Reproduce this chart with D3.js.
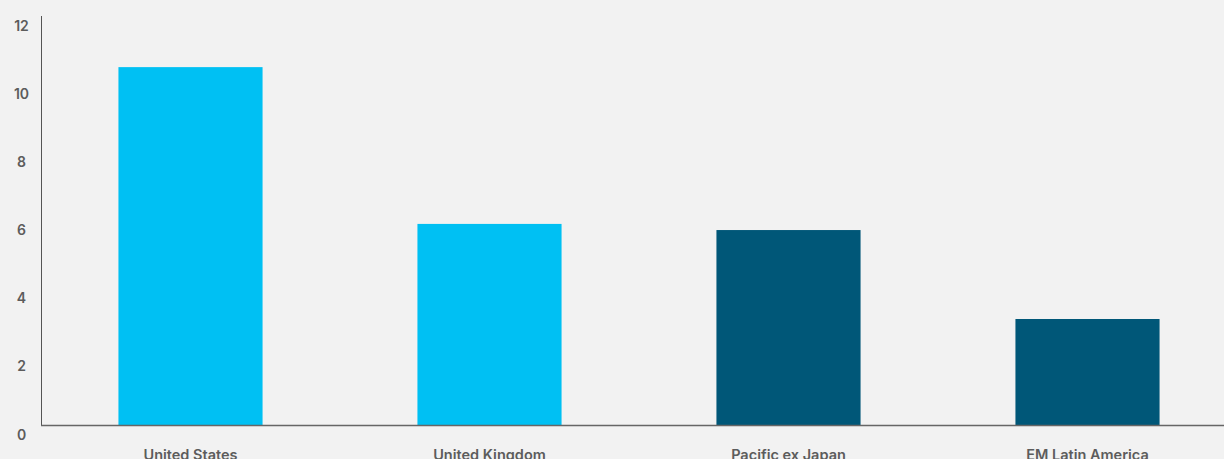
<!DOCTYPE html>
<html>
<head>
<meta charset="utf-8">
<script src="https://cdn.jsdelivr.net/npm/d3@7"></script>
<style>
  html, body { margin: 0; padding: 0; background: #f2f2f2; }
  svg { display: block; }
  text { font-family: Inter, "Noto Sans", sans-serif; fill: #5c5c5c; font-weight: 600; }
</style>
</head>
<body>
<svg id="chart" width="1224" height="459"></svg>
<script>
// Regions and their values
const categories = ["United States", "United Kingdom", "Pacific ex Japan", "EM Latin America"];
const values = [10.5, 5.9, 5.72, 3.11];
const barColors = ["#00c0f3", "#00c0f3", "#005778", "#005778"];
const yTicks = [0, 2, 4, 6, 8, 10, 12];

const W = 1224, H = 459;
const svg = d3.select("#chart");

const x = d3.scaleBand()
  .domain(categories)
  .range([41, 1237])
  .paddingInner(0.518)
  .paddingOuter(0.259);

const y = d3.scaleLinear()
  .domain([0, 12])
  .range([425, 16]);

// Bars
svg.append("g")
  .selectAll("rect")
  .data(categories)
  .join("rect")
  .attr("x", d => x(d))
  .attr("y", (d, i) => y(values[i]))
  .attr("width", x.bandwidth())
  .attr("height", (d, i) => y(0) - y(values[i]))
  .attr("fill", (d, i) => barColors[i]);

// Y axis line
svg.append("line")
  .attr("x1", 41.5).attr("x2", 41.5)
  .attr("y1", y(12)).attr("y2", y(0))
  .attr("stroke", "#555").attr("stroke-width", 1);

// Baseline
svg.append("line")
  .attr("x1", 41).attr("x2", W)
  .attr("y1", y(0) + 0.5).attr("y2", y(0) + 0.5)
  .attr("stroke", "#666").attr("stroke-width", 1.5);

// Y tick labels
svg.append("g")
  .selectAll("text")
  .data(yTicks)
  .join("text")
  .attr("x", 21.5)
  .attr("y", d => y(d) + 9)
  .attr("text-anchor", "middle")
  .attr("dominant-baseline", "central")
  .attr("font-size", 14)
  .text(d => d);

// Category labels
svg.append("g")
  .selectAll("text")
  .data(categories)
  .join("text")
  .attr("x", d => x(d) + x.bandwidth() / 2)
  .attr("y", 460)
  .attr("text-anchor", "middle")
  .attr("font-size", 14.5)
  .text(d => d);
</script>
</body>
</html>
